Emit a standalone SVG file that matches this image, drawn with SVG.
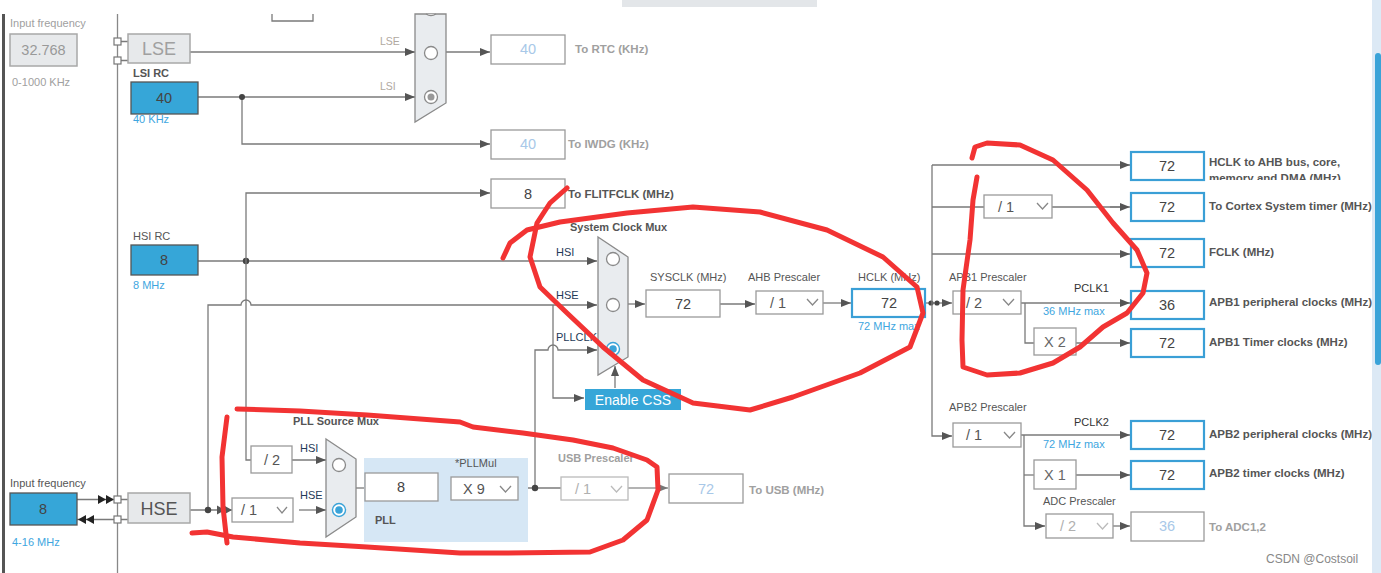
<svg xmlns="http://www.w3.org/2000/svg" width="1381" height="573" viewBox="0 0 1381 573">
<defs>
<style>
text{font-family:"Liberation Sans",Arial,sans-serif;}
.ln{fill:none;stroke:#7a7a7a;stroke-width:1.3;}
.lnd{fill:none;stroke:#9a9a9a;stroke-width:1.3;}
.box{fill:#fff;stroke:#9a9a9a;stroke-width:1.3;}
.gbox{fill:#e7e9eb;stroke:#a8a8a8;stroke-width:1.5;}
.bbox{fill:#36a6d8;stroke:#555;stroke-width:1.3;}
.obox{fill:#fff;stroke:#3a9fd6;stroke-width:2.2;}
.mux{fill:#e9ecef;stroke:#8a8a8a;stroke-width:1.3;}
.rad{fill:#fff;stroke:#8a8a8a;stroke-width:1.3;}
.sq{fill:#fff;stroke:#777;stroke-width:1.2;}
.chev{fill:none;stroke:#888;stroke-width:1.3;}
.chevd{fill:none;stroke:#bbb;stroke-width:1.3;}
.t11{font-size:11px;fill:#555;}
.tb{font-size:11.5px;fill:#555;font-weight:bold;}
.tbg{font-size:11.5px;fill:#a0a0a0;font-weight:bold;}
.tg{font-size:11px;fill:#a0a0a0;}
.tblue{font-size:11px;fill:#3ea6e0;}
.tnav{font-size:11px;fill:#243a58;}
.v{font-size:14.5px;fill:#444;text-anchor:middle;}
.vl{font-size:14.5px;fill:#a8c8e8;text-anchor:middle;}
.vg{font-size:14.5px;fill:#999;text-anchor:middle;}
.dd{font-size:14.5px;fill:#555;}
.ddg{font-size:14.5px;fill:#b0b0b0;}
.big{font-size:18px;text-anchor:middle;}
.dot{fill:#444;}
.red{fill:none;stroke:#f23333;stroke-width:5;stroke-linecap:round;stroke-linejoin:round;}
</style>
<marker id="arr" viewBox="0 0 10 8" refX="10" refY="4" markerWidth="10" markerHeight="8" markerUnits="userSpaceOnUse" orient="auto">
<path d="M0,0 L10,4 L0,8 z" fill="#555"/>
</marker>
<marker id="arrg" viewBox="0 0 10 8" refX="10" refY="4" markerWidth="10" markerHeight="8" markerUnits="userSpaceOnUse" orient="auto">
<path d="M0,0 L10,4 L0,8 z" fill="#777"/>
</marker>
<clipPath id="clipmem"><rect x="1200" y="150" width="181" height="30"/></clipPath>
</defs>
<rect x="0" y="0" width="1381" height="573" fill="#fff"/>
<rect x="622" y="0" width="195" height="7" fill="#e3e6e9"/>
<rect x="2" y="14" width="3" height="559" fill="#555"/>
<line x1="117.5" y1="14" x2="117.5" y2="573" stroke="#888" stroke-width="1.3"/>
<rect x="1372" y="0" width="9" height="573" fill="#dce9f5"/>
<rect x="1375" y="53" width="6" height="312" rx="3" fill="#3aa3d8"/>
<path d="M272,14 V21 H313 V14" class="ln"/>

<g id="connectors">
<path d="M121,41.5 H128 M121,60.5 H128" class="ln"/>
<path d="M190,52 H415" class="ln" marker-end="url(#arr)"/>
<path d="M198,97 H415" class="ln" marker-end="url(#arr)"/>
<path d="M242,97 V144 H490" class="ln" marker-end="url(#arr)"/>
<circle cx="242" cy="97" r="3" class="dot"/>
<path d="M446,52 H490" class="ln" marker-end="url(#arr)"/>
<path d="M198,261 H597" class="ln" marker-end="url(#arr)"/>
<circle cx="246" cy="261" r="3.2" class="dot"/>
<path d="M246,261 V193 H490" class="ln" marker-end="url(#arr)"/>
<path d="M246,261 V460 H251" class="ln"/>
<path d="M208,510 V305 H241 a5,5 0 0 1 10,0 H597" class="ln" marker-end="url(#arr)"/>
<path d="M553,305 V398 H584" class="ln" marker-end="url(#arr)"/>
<path d="M535,488 V350 H548 a5,5 0 0 1 10,0 H597" class="ln" marker-end="url(#arr)"/>
<path d="M615,388 V366" class="ln" marker-end="url(#arr)"/>
<path d="M628,304 H645" class="ln" marker-end="url(#arr)"/>
<path d="M720,304 H755" class="ln" marker-end="url(#arr)"/>
<path d="M823,303 H851" class="ln" marker-end="url(#arr)"/>
<path d="M926,303 H952" class="ln" marker-end="url(#arr)"/>
<circle cx="931" cy="303" r="2.6" class="dot"/>
<circle cx="937" cy="303" r="2.6" class="dot"/>
<path d="M932,165 V436 H952" class="ln" marker-end="url(#arr)"/>
<path d="M932,165 H1130" class="ln" marker-end="url(#arr)"/>
<path d="M932,207 H984 M1052,207 H1120" class="ln"/>
<path d="M1110,207 H1130" class="ln" marker-end="url(#arr)"/>
<path d="M932,254 H1130" class="ln" marker-end="url(#arr)"/>
<path d="M1021,303 H1130" class="ln" marker-end="url(#arr)"/>
<path d="M1025,303 V343 H1034" class="ln"/>
<path d="M1076,343 H1130" class="ln" marker-end="url(#arr)"/>
<path d="M1021,435 H1130" class="ln" marker-end="url(#arr)"/>
<path d="M1024,435 V526 H1045" class="ln" marker-end="url(#arr)"/>
<path d="M1024,475 H1034" class="ln"/>
<path d="M1076,475 H1130" class="ln" marker-end="url(#arr)"/>
<path d="M1113,526 H1130" class="ln" marker-end="url(#arr)"/>
<path d="M77,499.5 H114 M77,519.5 H114" class="ln"/>
<path d="M98,495 L106,499.5 L98,504 z M106,495 L114,499.5 L106,504 z" fill="#222"/>
<path d="M94,515 L86,519.5 L94,524 z M86,515 L78,519.5 L86,524 z" fill="#222"/>
<path d="M121,499.5 H128 M121,519.5 H128" class="ln"/>
<path d="M190,510 H232" class="ln"/>
<circle cx="208" cy="510" r="3.2" class="dot"/>
<path d="M217,505.5 L225,510 L217,514.5 z M224,505.5 L232,510 L224,514.5 z" fill="#555"/>
<path d="M292,460 H326" class="ln" marker-end="url(#arr)"/>
<path d="M299,510 H326" class="ln" marker-end="url(#arr)"/>
<path d="M356,488 H365" class="ln"/>
<path d="M438,488 H451" class="ln"/>
<path d="M518,488 H561" class="ln"/>
<circle cx="535" cy="488" r="3.2" class="dot"/>
<path d="M628,488 H668" class="lnd" marker-end="url(#arrg)"/>
</g>

<g id="lse-input">
<text x="10" y="27" class="tg">Input frequency</text>
<rect x="10" y="34" width="67" height="32" class="gbox"/>
<text x="43.5" y="55" class="vg">32.768</text>
<text x="12" y="86" class="tg">0-1000 KHz</text>
</g>
<g id="lse">
<rect x="114" y="38" width="7" height="7" class="sq"/>
<rect x="114" y="57" width="7" height="7" class="sq"/>
<rect x="128" y="34" width="62" height="29" class="gbox"/>
<text x="159" y="55" class="big" fill="#a0a0a0">LSE</text>
</g>
<g id="lsi">
<text x="133" y="77" class="tb" style="font-size:11px">LSI RC</text>
<rect x="131" y="82" width="67" height="32" class="bbox"/>
<text x="164" y="103" class="v">40</text>
<text x="133" y="123" class="tblue">40 KHz</text>
</g>
<g id="rtc-mux">
<polygon points="415,14 446,14 446,103 415,122" class="mux"/>
<path d="M426,14 Q431,17 436,14" class="rad"/>
<circle cx="431" cy="53" r="6.5" class="rad"/>
<circle cx="431" cy="97" r="6.5" class="rad"/>
<circle cx="431" cy="97" r="3.5" fill="#999"/>
<text x="380" y="45" style="font-size:10.5px;fill:#b0a8a0">LSE</text>
<text x="380" y="90" style="font-size:10.5px;fill:#b0a8a0">LSI</text>
</g>
<g id="rtc">
<rect x="491" y="35" width="74" height="29" class="box"/>
<text x="528" y="54" class="vl">40</text>
<text x="575" y="53" class="tbg">To RTC (KHz)</text>
</g>
<g id="iwdg">
<rect x="491" y="130" width="74" height="29" class="box"/>
<text x="528" y="149" class="vl">40</text>
<text x="568" y="148" class="tbg">To IWDG (KHz)</text>
</g>
<g id="flitf">
<rect x="491" y="179" width="74" height="29" class="box"/>
<text x="528" y="199" class="v">8</text>
<text x="568" y="198" class="tb">To FLITFCLK (MHz)</text>
</g>
<g id="hsi">
<text x="133" y="240" class="t11">HSI RC</text>
<rect x="131" y="245" width="67" height="30" class="bbox"/>
<text x="164" y="265" class="v">8</text>
<text x="133" y="289" class="tblue">8 MHz</text>
</g>
<g id="sys-mux">
<text x="570" y="231" class="tb" style="font-size:11px">System Clock Mux</text>
<polygon points="598,237 628,257 628,357 598,375" class="mux"/>
<circle cx="613" cy="259" r="6.5" class="rad"/>
<circle cx="613" cy="305" r="6.5" class="rad"/>
<circle cx="613" cy="349" r="6.5" fill="#fff" stroke="#3aa3d8" stroke-width="1.4"/>
<circle cx="613" cy="349" r="3.8" fill="#3aa3d8"/>
<text x="556" y="256" class="tnav">HSI</text>
<text x="556" y="299" class="tnav">HSE</text>
<text x="556" y="341" class="tnav">PLLCLK</text>
</g>
<g id="css">
<rect x="585" y="389" width="96" height="21" fill="#36a6d8"/>
<text x="633" y="405" style="font-size:14px;fill:#fff;text-anchor:middle">Enable CSS</text>
</g>
<g id="sysclk">
<text x="650" y="281" class="t11">SYSCLK (MHz)</text>
<rect x="646" y="290" width="74" height="27" class="box"/>
<text x="683" y="309" class="v">72</text>
</g>
<g id="ahb">
<text x="748" y="281" class="t11">AHB Prescaler</text>
<rect x="756" y="291" width="67" height="23" class="box"/>
<text x="770" y="308" class="dd">/ 1</text>
<polyline points="807,299 812.5,305 818,299" class="chev"/>
</g>
<g id="hclk">
<text x="858" y="281" class="t11">HCLK (MHz)</text>
<rect x="852" y="289" width="73" height="28" class="obox"/>
<text x="889" y="308" class="v">72</text>
<text x="858" y="330" class="tblue">72 MHz max</text>
</g>
<g id="ahb-out">
<rect x="1131" y="152" width="73" height="28" class="obox"/>
<text x="1167" y="171" class="v">72</text>
<text x="1209" y="166" class="tb">HCLK to AHB bus, core,</text>
<text x="1209" y="182" class="tb" clip-path="url(#clipmem)">memory and DMA (MHz)</text>
</g>
<g id="cortex-pre">
<rect x="984" y="195" width="68" height="23" class="box"/>
<text x="998" y="212" class="dd">/ 1</text>
<polyline points="1037,203 1042.5,209 1048,203" class="chev"/>
</g>
<g id="cortex">
<rect x="1131" y="193" width="73" height="28" class="obox"/>
<text x="1167" y="212" class="v">72</text>
<text x="1209" y="210" class="tb">To Cortex System timer (MHz)</text>
</g>
<g id="fclk">
<rect x="1131" y="239" width="73" height="28" class="obox"/>
<text x="1167" y="258" class="v">72</text>
<text x="1209" y="256" class="tb">FCLK (MHz)</text>
</g>
<g id="apb1-pre">
<text x="949" y="281" class="t11">APB1 Prescaler</text>
<rect x="953" y="291" width="68" height="23" class="box"/>
<text x="966" y="308" class="dd">/ 2</text>
<polyline points="1003,299 1008.5,305 1014,299" class="chev"/>
<text x="1074" y="292" class="t11" style="fill:#333">PCLK1</text>
<text x="1043" y="315" class="tblue">36 MHz max</text>
</g>
<g id="apb1-x2">
<rect x="1034" y="328" width="42" height="27" class="box"/>
<text x="1055" y="347" class="v" style="fill:#666">X 2</text>
</g>
<g id="apb1-per">
<rect x="1131" y="291" width="73" height="28" class="obox"/>
<text x="1167" y="310" class="v">36</text>
<text x="1209" y="306" class="tb">APB1 peripheral clocks (MHz)</text>
</g>
<g id="apb1-tim">
<rect x="1131" y="329" width="73" height="28" class="obox"/>
<text x="1167" y="348" class="v">72</text>
<text x="1209" y="346" class="tb">APB1 Timer clocks (MHz)</text>
</g>
<g id="apb2-pre">
<text x="949" y="411" class="t11">APB2 Prescaler</text>
<rect x="953" y="423" width="68" height="24" class="box"/>
<text x="966" y="440" class="dd">/ 1</text>
<polyline points="1004,432 1009.5,438 1015,432" class="chev"/>
<text x="1074" y="426" class="t11" style="fill:#333">PCLK2</text>
<text x="1043" y="448" class="tblue">72 MHz max</text>
</g>
<g id="apb2-per">
<rect x="1131" y="421" width="73" height="28" class="obox"/>
<text x="1167" y="440" class="v">72</text>
<text x="1209" y="438" class="tb">APB2 peripheral clocks (MHz)</text>
</g>
<g id="apb2-x1">
<rect x="1034" y="460" width="42" height="29" class="box"/>
<text x="1055" y="480" class="v" style="fill:#666">X 1</text>
</g>
<g id="apb2-tim">
<rect x="1131" y="461" width="73" height="28" class="obox"/>
<text x="1167" y="480" class="v">72</text>
<text x="1209" y="477" class="tb">APB2 timer clocks (MHz)</text>
</g>
<g id="adc-pre">
<text x="1043" y="505" class="t11">ADC Prescaler</text>
<rect x="1046" y="514" width="67" height="24" class="box"/>
<text x="1060" y="531" class="ddg">/ 2</text>
<polyline points="1097,523 1102.5,529 1108,523" class="chevd"/>
</g>
<g id="adc">
<rect x="1131" y="512" width="73" height="29" class="box"/>
<text x="1167" y="531" class="vl">36</text>
<text x="1209" y="531" class="tbg">To ADC1,2</text>
</g>
<g id="hse-input">
<text x="10" y="487" class="t11">Input frequency</text>
<rect x="10" y="493" width="67" height="32" class="bbox" stroke="#3a8fc0"/>
<text x="43" y="514" class="v">8</text>
<text x="12" y="546" class="tblue">4-16 MHz</text>
</g>
<g id="hse">
<rect x="114" y="496" width="7" height="7" class="sq"/>
<rect x="114" y="516" width="7" height="7" class="sq"/>
<rect x="128" y="493" width="62" height="30" class="gbox"/>
<text x="159" y="515" class="big" fill="#555">HSE</text>
</g>
<g id="hsi-div2">
<rect x="251" y="446" width="41" height="27" class="box"/>
<text x="272" y="465" class="v" style="fill:#555">/ 2</text>
</g>
<g id="hse-pre">
<rect x="232" y="498" width="61" height="24" class="box"/>
<text x="241" y="515" class="dd">/ 1</text>
<polyline points="277,507 282,513 287,507" class="chev"/>
</g>
<g id="pll-mux">
<text x="293" y="425" class="tb" style="font-size:11px">PLL Source Mux</text>
<text x="300" y="452" class="tnav">HSI</text>
<text x="300" y="499" class="tnav">HSE</text>
<polygon points="326,439 356,459 356,517 326,537" class="mux"/>
<circle cx="339" cy="465" r="6.5" class="rad"/>
<circle cx="339" cy="510" r="6.5" fill="#fff" stroke="#3aa3d8" stroke-width="1.4"/>
<circle cx="339" cy="510" r="3.8" fill="#3aa3d8"/>
</g>
<g id="pll">
<rect x="364" y="458" width="164" height="84" fill="#d6e7f5"/>
<rect x="365" y="473" width="73" height="28" class="box"/>
<text x="401" y="492" class="v">8</text>
<text x="375" y="524" class="tb" style="font-size:11px">PLL</text>
<text x="455" y="467" class="t11">*PLLMul</text>
<rect x="451" y="477" width="67" height="23" class="box"/>
<text x="463" y="494" class="dd">X 9</text>
<polyline points="500,486 505.5,492 511,486" class="chev"/>
</g>
<g id="usb-pre">
<text x="558" y="462" class="tbg" style="font-size:11px">USB Prescaler</text>
<rect x="561" y="477" width="67" height="23" class="box" style="stroke:#bbb"/>
<text x="575" y="494" class="ddg">/ 1</text>
<polyline points="611,486 616.5,492 622,486" class="chevd"/>
</g>
<g id="usb">
<rect x="669" y="474" width="74" height="29" class="box"/>
<text x="706" y="494" class="vl">72</text>
<text x="749" y="494" class="tbg">To USB (MHz)</text>
</g>
<text x="1266" y="563" style="font-size:12px;fill:#888">CSDN @Costsoil</text>

<g id="annotations">
<polyline class="red" points="503,258 510,243 527,230 560,222 627,213 693,207 760,212 827,230 883,257 917,287 923,313 910,347 860,373 793,397 750,410 693,403 643,380 603,347 567,313 540,287 530,257 537,223 550,203 567,188"/>
<polyline class="red" points="972,158 975,147 987,143 1020,145 1053,160 1087,190 1113,223 1137,250 1147,273 1143,293 1127,313 1103,327 1080,347 1053,363 1020,373 987,375 963,367 962,340 963,290 970,240 973,200 977,177"/>
<polyline class="red" points="192,533 207,532 233,537 300,543 367,547 460,553 507,553 590,552 623,540 647,520 658,490 657,467 647,460 613,448 573,440 523,433 473,427 460,422 367,415 300,411 237,409"/>
<polyline class="red" points="227,417 222,457 223,507 227,543"/>
</g>
</svg>
